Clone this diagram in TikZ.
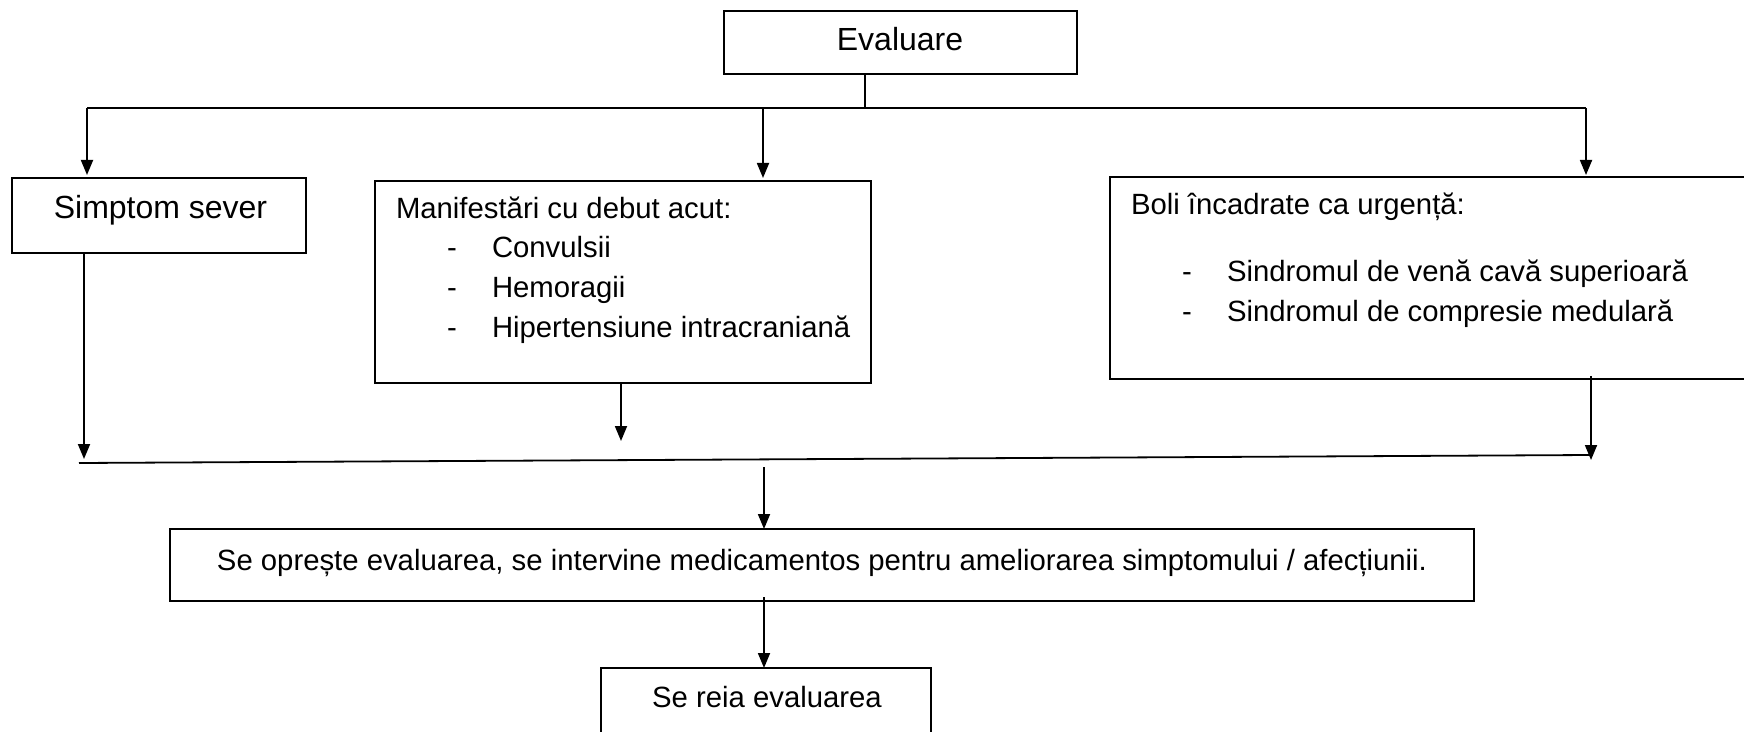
\documentclass[tikz,border=0pt]{standalone}
\usepackage{fontspec}
\setmainfont{Liberation Sans}
\usetikzlibrary{arrows.meta}
\newcommand{\fsz}{\fontsize{14.65pt}{20pt}\selectfont}
\newcommand{\fbig}{\fontsize{16pt}{20pt}\selectfont}
\begin{document}
\begin{tikzpicture}[x=0.5pt,y=-0.5pt,
  box/.style={draw,line width=0.9pt,inner sep=0pt,outer sep=0pt},
  txt/.style={inner sep=0pt,outer sep=0pt,font=\fsz},
  bigtxt/.style={inner sep=0pt,outer sep=0pt,font=\fbig},
  arr/.style={line width=0.9pt,-{Triangle[length=7.5pt,width=6pt]}},
  ln/.style={line width=0.9pt}]
\useasboundingbox (0,0) rectangle (1744,732);
\clip (0,0) rectangle (1744,732);
% boxes
\node[box,minimum width=176.5pt,minimum height=31.5pt] (eval) at (900.5,42.5) {};
\node[box,minimum width=147pt,minimum height=37.5pt] (simptom) at (159,215.5) {};
\node[box,minimum width=248pt,minimum height=101pt] (manif) at (623,282) {};
\node[box,minimum width=330pt,minimum height=101pt] (boli) at (1440,278) {};
\node[box,minimum width=652pt,minimum height=36pt] (stop) at (822,565) {};
\node[box,minimum width=165pt,minimum height=46pt] (reia) at (766,714) {};
% texts
\node[bigtxt,anchor=base] (tEval) at (900,51) {Evaluare};
\node[bigtxt,anchor=base] (tSimp) at (160.5,219) {Simptom sever};
\node[txt,anchor=base west] (tMan) at (396,219) {Manifestări cu debut acut:};
\node[txt,anchor=base west] (dM1) at (447,258) {-};
\node[txt,anchor=base west] (tM1) at (492,258) {Convulsii};
\node[txt,anchor=base west] (dM2) at (447,298) {-};
\node[txt,anchor=base west] (tM2) at (492,298) {Hemoragii};
\node[txt,anchor=base west] (dM3) at (447,338) {-};
\node[txt,anchor=base west] (tM3) at (492,338) {Hipertensiune intracraniană};
\node[txt,anchor=base west] (tBoli) at (1131,215) {Boli încadrate ca urgență:};
\node[txt,anchor=base west] (dB1) at (1182,282) {-};
\node[txt,anchor=base west] (tB1) at (1227,282) {Sindromul de venă cavă superioară};
\node[txt,anchor=base west] (dB2) at (1182,322) {-};
\node[txt,anchor=base west] (tB2) at (1227,322) {Sindromul de compresie medulară};
\node[txt,anchor=base] (tStop) at (822,570) {Se oprește evaluarea, se intervine medicamentos pentru ameliorarea simptomului / afecțiunii.};
\node[txt,anchor=base] (tReia) at (767,707) {Se reia evaluarea};
% junction coordinates
\coordinate (j0) at (865,108);
\coordinate (bl) at (87,108);
\coordinate (bm) at (763,108);
\coordinate (br) at (1586,108);
\coordinate (sl) at (79,463);
\coordinate (sr) at (1591,455);
\coordinate (s1) at (84,459);
\coordinate (m1) at (621,441);
\coordinate (b0) at (1591,376);
\coordinate (b1) at (1591,460);
\coordinate (d0) at (764,467);
\coordinate (e0) at (764,597);
% connectors
\draw[ln] (eval.south -| j0) -- (j0);
\draw[ln] (bl) -- (br);
\draw[arr] (bl) -- ([yshift=1.5pt]bl |- simptom.north);
\draw[arr] (bm) -- ([yshift=1.5pt]bm |- manif.north);
\draw[arr] (br) -- ([yshift=1pt]br |- boli.north);
\draw[ln] (sl) -- (sr);
\draw[arr] (simptom.south -| s1) -- (s1);
\draw[arr] (manif.south -| m1) -- (m1);
\draw[arr] (b0) -- (b1);
\draw[arr] (d0) -- (d0 |- stop.north);
\draw[arr] (e0) -- (e0 |- reia.north);
\end{tikzpicture}
\end{document}
